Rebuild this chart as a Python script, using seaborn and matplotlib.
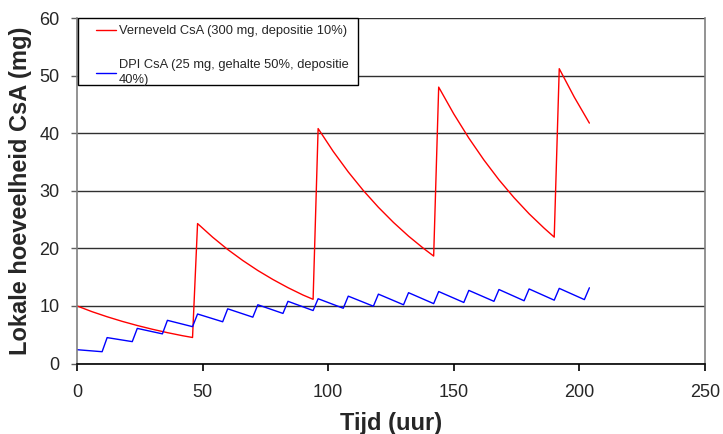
import matplotlib
matplotlib.use('Agg')
import matplotlib.pyplot as plt
from matplotlib.patches import Rectangle
import pandas as pd
import seaborn as sns

# Verneveld CsA (300 mg, depositie 10%)
RED_T = [0, 6, 12, 18, 24, 30, 36, 42, 46,
         48, 54, 60, 66, 72, 78, 84, 90, 94,
         96, 102, 108, 114, 120, 126, 132, 138, 142,
         144, 150, 156, 162, 168, 174, 180, 186, 190,
         192, 198, 204]
RED_Y = [10.0, 9.0, 8.12, 7.32, 6.6, 5.95, 5.36, 4.83, 4.52,
         24.3, 21.94, 19.8, 17.89, 16.15, 14.59, 13.17, 11.89, 11.15,
         40.8, 36.84, 33.27, 30.04, 27.13, 24.5, 22.12, 19.98, 18.66,
         48.0, 43.35, 39.15, 35.35, 31.9, 28.8, 26.0, 23.5, 21.95,
         51.2, 46.25, 41.75]

# DPI CsA (25 mg, gehalte 50%, depositie 40%)
BLUE_T = [0, 10, 12, 22, 24, 34, 36, 46, 48, 58, 60, 70, 72, 82, 84, 94,
          96, 106, 108, 118, 120, 130, 132, 142, 144, 154, 156, 166, 168,
          178, 180, 190, 192, 202, 204]
BLUE_Y = [2.4, 2.05, 4.5, 3.8, 6.1, 5.15, 7.5, 6.4, 8.6, 7.25, 9.5, 8.05,
          10.2, 8.7, 10.8, 9.2, 11.25, 9.6, 11.7, 9.95, 12.05, 10.2, 12.3,
          10.4, 12.5, 10.6, 12.7, 10.8, 12.85, 10.9, 12.95, 11.0, 13.05,
          11.1, 13.15]

LABEL_RED = 'Verneveld CsA (300 mg, depositie 10%)'
LABEL_BLUE = 'DPI CsA (25 mg, gehalte 50%, depositie\n40%)'

X_TICKS = [0, 50, 100, 150, 200, 250]
Y_TICKS = [0, 10, 20, 30, 40, 50, 60]

sns.set_theme(style='white')
plt.rcParams['font.family'] = ['Liberation Sans', 'DejaVu Sans']

df = pd.concat([
    pd.DataFrame({'Tijd': RED_T, 'CsA': RED_Y, 'Reeks': LABEL_RED}),
    pd.DataFrame({'Tijd': BLUE_T, 'CsA': BLUE_Y, 'Reeks': LABEL_BLUE}),
], ignore_index=True)

fig = plt.figure(figsize=(7.23, 4.34), dpi=100)
ax = fig.add_axes([0.1065, 0.1624, 0.8685, 0.7961])

sns.lineplot(data=df, x='Tijd', y='CsA', hue='Reeks', estimator=None,
             sort=False, palette=['#ff0000', '#0000ff'], linewidth=1.0, ax=ax)

ax.set_xlim(0, 250)
ax.set_ylim(0, 60)
ax.set_xticks(X_TICKS)
ax.set_yticks(Y_TICKS)
ax.yaxis.grid(True, color='#303030', linewidth=1.0)
ax.xaxis.grid(False)
ax.set_axisbelow(True)

for side in ['left', 'right']:
    ax.spines[side].set_color('#808080')
    ax.spines[side].set_linewidth(1.2)
ax.spines['bottom'].set_color('black')
ax.spines['bottom'].set_linewidth(1.2)
ax.spines['top'].set_visible(False)

ax.tick_params(axis='x', direction='out', length=5, width=1.2, color='black',
               pad=10, labelsize=13, bottom=True)
ax.tick_params(axis='y', direction='out', length=4.5, width=1.0, color='#606060',
               pad=8, labelsize=13, left=True)

ax.set_xlabel('Tijd (uur)', fontsize=17, fontweight='bold')
ax.set_ylabel('Lokale hoeveelheid CsA (mg)', fontsize=17, fontweight='bold')
ax.xaxis.set_label_coords(0.5, -0.14)
ax.yaxis.set_label_coords(-0.072, 0.5)

# Excel-style legend box: a plain frame with the entries set inside it
ax.add_patch(Rectangle((0.0016, 0.806), 0.446, 0.194, transform=ax.transAxes,
                       facecolor='white', edgecolor='black', linewidth=1.0,
                       zorder=4.5, clip_on=False))
leg = ax.legend(loc='upper left', bbox_to_anchor=(0.031, 0.979),
                borderaxespad=0, borderpad=0, fontsize=9.3, frameon=False,
                handlelength=1.5, handletextpad=0.25, labelspacing=1.7,
                title=None)
for txt in leg.get_texts():
    txt.set_linespacing(1.35)

fig.savefig('out.png', dpi=100)
